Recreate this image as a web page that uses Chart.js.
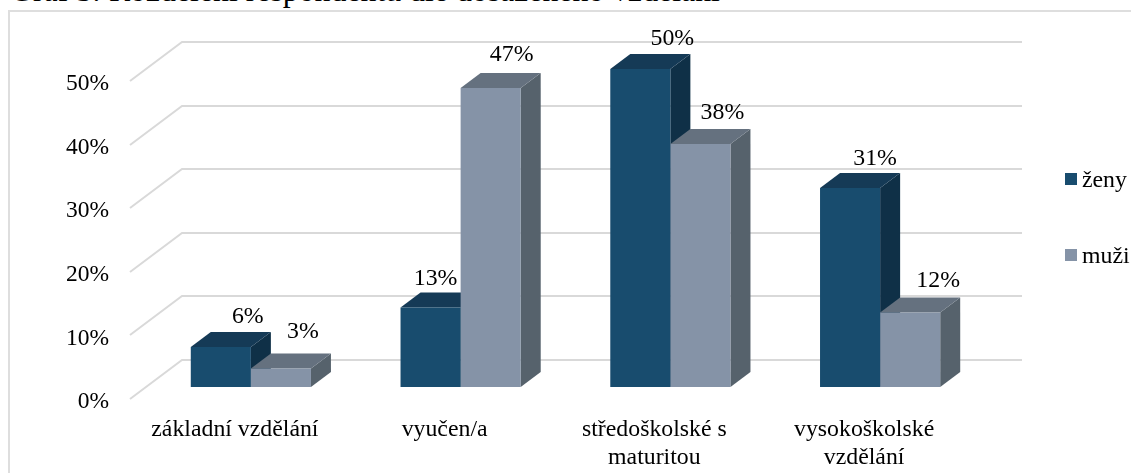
<!DOCTYPE html>
<html lang="cs">
<head>
<meta charset="utf-8">
<title>Graf 5</title>
<script src="https://cdn.jsdelivr.net/npm/chart.js@4"></script>
<style>
html,body{margin:0;padding:0;background:#fff;overflow:hidden;width:1131px;height:473px}
#wrap{position:relative;width:1131px;height:473px;overflow:hidden}
#cap{position:absolute;left:10px;top:-27px;font:31.8px/36px "Liberation Serif",serif;color:#000;white-space:nowrap}
#frame{position:absolute;left:8px;top:10px;width:1140px;height:480px;border:2px solid #dedede;box-sizing:border-box}
canvas{position:absolute;left:0;top:0}
</style>
</head>
<body>
<div id="wrap">
<div id="frame"></div>
<div id="cap">Graf 5: Rozdělení respondentů dle dosaženého vzdělání</div>
<canvas id="c" width="1131" height="473"></canvas>
</div>
<script>
const categories = ["základní vzdělání", "vyučen/a", ["středoškolské s", "maturitou"], ["vysokoškolské", "vzdělání"]];
const zeny = [6.3, 12.5, 50, 31.3];
const muzi = [2.9, 47, 38.2, 11.7];
const yTicks = [0, 10, 20, 30, 40, 50];

const FONT = '"Liberation Serif", serif';
const depth = {barX: 20, barY: 15, wallX: 36, wallY: 27, frontX: -16, frontY: 12};
const shades = [{top: "#153A56", side: "#0F3047"}, {top: "#65717F", side: "#56626C"}];
const labelNudge = [[[27, -30], [5, -29], [32, -30], [25, -29]], [[22, -37], [21, -33], [22, -31], [28, -32]]];

const plot3d = {
  id: "plot3d",
  beforeDatasetsDraw(chart) {
    const ctx = chart.ctx, y = chart.scales.y, a = chart.chartArea;
    ctx.save();
    ctx.strokeStyle = "#d9d9d9";
    ctx.lineWidth = 2;
    yTicks.forEach(t => {
      const p = Math.round(y.getPixelForValue(t));
      ctx.beginPath();
      ctx.moveTo(a.left + depth.frontX, p + depth.frontY);
      ctx.lineTo(a.left + depth.wallX, p - depth.wallY);
      ctx.lineTo(a.right + depth.wallX + 1, p - depth.wallY);
      ctx.stroke();
    });
    chart.data.datasets.forEach((ds, i) => {
      chart.getDatasetMeta(i).data.forEach(b => {
        const w = b.width / 2, l = b.x - w, r = b.x + w, t = b.y, m = b.base;
        const dx = depth.barX, dy = depth.barY;
        ctx.fillStyle = shades[i].side;
        ctx.beginPath();
        ctx.moveTo(r, t); ctx.lineTo(r + dx, t - dy); ctx.lineTo(r + dx, m - dy); ctx.lineTo(r, m);
        ctx.closePath(); ctx.fill();
        ctx.fillStyle = shades[i].top;
        ctx.beginPath();
        ctx.moveTo(l, t); ctx.lineTo(l + dx, t - dy); ctx.lineTo(r + dx, t - dy); ctx.lineTo(r, t);
        ctx.closePath(); ctx.fill();
      });
    });
    ctx.restore();
  },
  afterDatasetsDraw(chart) {
    const ctx = chart.ctx;
    ctx.save();
    ctx.font = "23.8px " + FONT;
    ctx.fillStyle = "#000";
    ctx.textAlign = "center";
    ctx.textBaseline = "middle";
    chart.data.datasets.forEach((ds, i) => {
      chart.getDatasetMeta(i).data.forEach((b, j) => {
        const n = labelNudge[i][j];
        ctx.fillText(Math.round(ds.data[j]) + "%", b.x + n[0], b.y + n[1]);
      });
    });
    // legend
    ctx.textAlign = "left";
    chart.data.datasets.forEach((ds, i) => {
      const top = 173 + i * 76;
      ctx.fillStyle = ds.backgroundColor;
      ctx.fillRect(1065, top, 12, 12);
      ctx.fillStyle = "#000";
      ctx.fillText(ds.label, 1082, top + 8);
    });
    ctx.restore();
  }
};

new Chart(document.getElementById("c"), {
  type: "bar",
  data: {
    labels: categories,
    datasets: [
      {label: "ženy", data: zeny, backgroundColor: "#184C6E", categoryPercentage: 0.573, barPercentage: 1},
      {label: "muži", data: muzi, backgroundColor: "#8593A7", categoryPercentage: 0.573, barPercentage: 1}
    ]
  },
  options: {
    responsive: false,
    animation: false,
    layout: {padding: {top: 69, right: 146, bottom: 0, left: 60}},
    plugins: {legend: {display: false}, tooltip: {enabled: false}, title: {display: false}},
    scales: {
      x: {
        grid: {display: false},
        border: {display: false},
        afterFit(s) { s.height = 86; },
        ticks: {
          font: {family: FONT, size: 23.8, lineHeight: 1.17},
          color: "#000",
          labelOffset: depth.frontX,
          padding: 21,
          maxRotation: 0,
          autoSkip: false
        }
      },
      y: {
        min: 0,
        max: 50,
        grid: {display: false},
        border: {display: false},
        afterFit(s) { s.width = 86; },
        afterBuildTicks(s) { s.ticks = yTicks.map(v => ({value: v})); },
        ticks: {
          font: {family: FONT, size: 23.5},
          color: "#000",
          labelOffset: depth.frontY + 3,
          padding: 29,
          callback: v => v + "%"
        }
      }
    }
  },
  plugins: [plot3d]
});
</script>
</body>
</html>
